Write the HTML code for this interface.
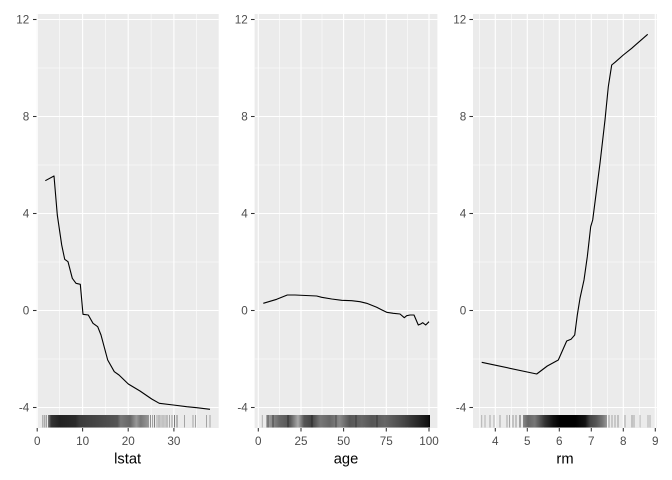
<!DOCTYPE html>
<html><head><meta charset="utf-8"><style>
html,body{margin:0;padding:0;background:#fff;}
svg{display:block;}
text{font-family:"Liberation Sans",Arial,sans-serif;}
.tl{font-size:11.7px;fill:#4D4D4D;}
.at{font-size:14.7px;fill:#000;}
.maj{stroke:#fff;stroke-width:1.1;}
.min{stroke:#fff;stroke-width:0.55;}
.tk{stroke:#333;stroke-width:1.07;}
.ln{fill:none;stroke:#000;stroke-width:1.1;stroke-linejoin:round;}
.rg line{stroke:#000;stroke-width:1;}
</style></head><body>
<svg width="672" height="480" viewBox="0 0 672 480" xmlns="http://www.w3.org/2000/svg">
<defs>
<linearGradient id="g1" gradientUnits="userSpaceOnUse" x1="44" y1="0" x2="149" y2="0">
<stop offset="0" stop-color="#aaa"/><stop offset="0.04" stop-color="#777"/><stop offset="0.07" stop-color="#333"/>
<stop offset="0.15" stop-color="#222"/><stop offset="0.30" stop-color="#2a2a2a"/><stop offset="0.34" stop-color="#3a3a3a"/>
<stop offset="0.53" stop-color="#484848"/><stop offset="0.70" stop-color="#555"/><stop offset="0.73" stop-color="#777"/>
<stop offset="0.82" stop-color="#666"/><stop offset="0.88" stop-color="#999"/><stop offset="0.92" stop-color="#777"/>
<stop offset="1" stop-color="#999"/>
</linearGradient>
<linearGradient id="g2" gradientUnits="userSpaceOnUse" x1="266" y1="0" x2="430" y2="0">
<stop offset="0" stop-color="#aaa"/><stop offset="0.04" stop-color="#888"/><stop offset="0.085" stop-color="#666"/>
<stop offset="0.146" stop-color="#555"/><stop offset="0.195" stop-color="#aaa"/><stop offset="0.232" stop-color="#555"/>
<stop offset="0.28" stop-color="#444"/><stop offset="0.33" stop-color="#777"/><stop offset="0.39" stop-color="#666"/>
<stop offset="0.45" stop-color="#888"/><stop offset="0.51" stop-color="#555"/><stop offset="0.585" stop-color="#666"/>
<stop offset="0.646" stop-color="#555"/><stop offset="0.725" stop-color="#666"/><stop offset="0.786" stop-color="#555"/>
<stop offset="0.847" stop-color="#444"/><stop offset="0.89" stop-color="#333"/><stop offset="0.94" stop-color="#222"/>
<stop offset="0.988" stop-color="#111"/><stop offset="1" stop-color="#000"/>
</linearGradient>
<linearGradient id="g3" gradientUnits="userSpaceOnUse" x1="523" y1="0" x2="607" y2="0">
<stop offset="0" stop-color="#888"/><stop offset="0.06" stop-color="#666"/><stop offset="0.14" stop-color="#777"/>
<stop offset="0.2" stop-color="#555"/><stop offset="0.26" stop-color="#333"/><stop offset="0.36" stop-color="#111"/>
<stop offset="0.44" stop-color="#000"/><stop offset="0.62" stop-color="#000"/><stop offset="0.74" stop-color="#111"/>
<stop offset="0.8" stop-color="#444"/><stop offset="0.87" stop-color="#555"/><stop offset="0.95" stop-color="#777"/>
<stop offset="1" stop-color="#999"/>
</linearGradient>
</defs>
<rect width="672" height="480" fill="#fff"/>

<!-- Panel 1 -->
<rect x="36.5" y="14" width="182.2" height="414" fill="#EBEBEB"/>
<g>
<line class="min" x1="36.5" x2="218.7" y1="68" y2="68"/><line class="min" x1="36.5" x2="218.7" y1="165" y2="165"/>
<line class="min" x1="36.5" x2="218.7" y1="262" y2="262"/><line class="min" x1="36.5" x2="218.7" y1="359" y2="359"/>
<line class="min" x1="59.7" x2="59.7" y1="14" y2="428"/><line class="min" x1="105.4" x2="105.4" y1="14" y2="428"/>
<line class="min" x1="151.1" x2="151.1" y1="14" y2="428"/><line class="min" x1="196.7" x2="196.7" y1="14" y2="428"/>
<line class="maj" x1="36.5" x2="218.7" y1="19.5" y2="19.5"/><line class="maj" x1="36.5" x2="218.7" y1="116.5" y2="116.5"/>
<line class="maj" x1="36.5" x2="218.7" y1="213.5" y2="213.5"/><line class="maj" x1="36.5" x2="218.7" y1="310.5" y2="310.5"/>
<line class="maj" x1="36.5" x2="218.7" y1="407.5" y2="407.5"/>
<line class="maj" x1="37.2" x2="37.2" y1="14" y2="428"/><line class="maj" x1="82.6" x2="82.6" y1="14" y2="428"/>
<line class="maj" x1="128.2" x2="128.2" y1="14" y2="428"/><line class="maj" x1="173.9" x2="173.9" y1="14" y2="428"/>
</g>
<rect x="48" y="415" width="101" height="12.5" fill="url(#g1)"/>
<g class="rg">
<line x1="42.7" x2="42.7" y1="415" y2="427.5" stroke-opacity="0.3"/><line x1="44.3" x2="44.3" y1="415" y2="427.5" stroke-opacity="0.35"/><line x1="46.2" x2="46.2" y1="415" y2="427.5" stroke-opacity="0.45"/>
<line x1="150.5" x2="150.5" y1="415" y2="427.5" stroke-opacity="0.4"/><line x1="152.5" x2="152.5" y1="415" y2="427.5" stroke-opacity="0.3"/>
<line x1="154.5" x2="154.5" y1="415" y2="427.5" stroke-opacity="0.45"/><line x1="157" x2="157" y1="415" y2="427.5" stroke-opacity="0.3"/>
<line x1="159" x2="159" y1="415" y2="427.5" stroke-opacity="0.4"/><line x1="161" x2="161" y1="415" y2="427.5" stroke-opacity="0.3"/>
<line x1="163" x2="163" y1="415" y2="427.5" stroke-opacity="0.35"/><line x1="165" x2="165" y1="415" y2="427.5" stroke-opacity="0.3"/>
<line x1="167" x2="167" y1="415" y2="427.5" stroke-opacity="0.4"/><line x1="169.5" x2="169.5" y1="415" y2="427.5" stroke-opacity="0.3"/>
<line x1="172" x2="172" y1="415" y2="427.5" stroke-opacity="0.35"/><line x1="174.5" x2="174.5" y1="415" y2="427.5" stroke-opacity="0.5"/>
<line x1="177" x2="177" y1="415" y2="427.5" stroke-opacity="0.45"/>
<line x1="184.5" x2="184.5" y1="415" y2="427.5" stroke-opacity="0.3"/><line x1="193" x2="193" y1="415" y2="427.5" stroke-opacity="0.3"/>
<line x1="195.5" x2="195.5" y1="415" y2="427.5" stroke-opacity="0.3"/><line x1="206.5" x2="206.5" y1="415" y2="427.5" stroke-opacity="0.3"/>
<line x1="210" x2="210" y1="415" y2="427.5" stroke-opacity="0.3"/>
</g>
<path class="ln" d="M45.3,180.7 L54,176 L57.3,215 L61.7,245 L64.7,259.3 L68,261.7 L72.3,278.3 L76,283.3 L80.3,284.3 L83,314.3 L88.3,315 L93,323.3 L97.7,326.7 L101,335 L107.7,360 L114.3,371.7 L119,375 L128.3,384 L140,391 L151.7,399 L159.3,403.3 L173.3,405 L186.7,406.7 L196.7,407.7 L210,409.3"/>
<g class="tk">
<line x1="33" x2="36.5" y1="19.5" y2="19.5"/><line x1="33" x2="36.5" y1="116.5" y2="116.5"/><line x1="33" x2="36.5" y1="213.5" y2="213.5"/>
<line x1="33" x2="36.5" y1="310.5" y2="310.5"/><line x1="33" x2="36.5" y1="407.5" y2="407.5"/>
<line x1="37.2" x2="37.2" y1="428" y2="431.5"/><line x1="82.6" x2="82.6" y1="428" y2="431.5"/>
<line x1="128.2" x2="128.2" y1="428" y2="431.5"/><line x1="173.9" x2="173.9" y1="428" y2="431.5"/>
</g>
<g class="tl" text-anchor="end">
<text x="29.3" y="23.7">12</text><text x="29.3" y="120.7">8</text><text x="29.3" y="217.7">4</text>
<text x="29.3" y="314.7">0</text><text x="29.3" y="411.7">-4</text>
</g>
<g class="tl" text-anchor="middle">
<text x="37.2" y="445">0</text><text x="82.6" y="445">10</text><text x="128.2" y="445">20</text><text x="173.9" y="445">30</text>
</g>
<text class="at" x="127.6" y="463.3" text-anchor="middle">lstat</text>

<!-- Panel 2 -->
<rect x="254.6" y="14" width="182.8" height="414" fill="#EBEBEB"/>
<g>
<line class="min" x1="254.6" x2="437.4" y1="68" y2="68"/><line class="min" x1="254.6" x2="437.4" y1="165" y2="165"/>
<line class="min" x1="254.6" x2="437.4" y1="262" y2="262"/><line class="min" x1="254.6" x2="437.4" y1="359" y2="359"/>
<line class="min" x1="279.6" x2="279.6" y1="14" y2="428"/><line class="min" x1="322" x2="322" y1="14" y2="428"/>
<line class="min" x1="364.7" x2="364.7" y1="14" y2="428"/><line class="min" x1="407.4" x2="407.4" y1="14" y2="428"/>
<line class="maj" x1="254.6" x2="437.4" y1="19.5" y2="19.5"/><line class="maj" x1="254.6" x2="437.4" y1="116.5" y2="116.5"/>
<line class="maj" x1="254.6" x2="437.4" y1="213.5" y2="213.5"/><line class="maj" x1="254.6" x2="437.4" y1="310.5" y2="310.5"/>
<line class="maj" x1="254.6" x2="437.4" y1="407.5" y2="407.5"/>
<line class="maj" x1="258.3" x2="258.3" y1="14" y2="428"/><line class="maj" x1="301" x2="301" y1="14" y2="428"/>
<line class="maj" x1="343.6" x2="343.6" y1="14" y2="428"/><line class="maj" x1="386.3" x2="386.3" y1="14" y2="428"/>
<line class="maj" x1="429" x2="429" y1="14" y2="428"/>
</g>
<rect x="266" y="415" width="164" height="12.5" fill="url(#g2)"/>
<g class="rg">
<line x1="262.3" x2="262.3" y1="415" y2="427.5" stroke-opacity="0.25"/>
<line x1="268" x2="268" y1="415" y2="427.5" stroke="#EBEBEB" stroke-opacity="0.5"/>
<line x1="273" x2="273" y1="415" y2="427.5" stroke="#EBEBEB" stroke-opacity="0.5"/>
<line x1="288" x2="288" y1="415" y2="427.5" stroke="#EBEBEB" stroke-opacity="0.5"/>
<line x1="312" x2="312" y1="415" y2="427.5" stroke="#EBEBEB" stroke-opacity="0.4"/>
<line x1="336" x2="336" y1="415" y2="427.5" stroke="#EBEBEB" stroke-opacity="0.4"/>
<line x1="356" x2="356" y1="415" y2="427.5" stroke="#EBEBEB" stroke-opacity="0.4"/>
<line x1="377" x2="377" y1="415" y2="427.5" stroke="#EBEBEB" stroke-opacity="0.4"/>
</g>
<path class="ln" d="M263.3,303.3 L276.7,299.3 L287.3,295 L295,295 L316.7,296 L321.7,297.3 L331.7,299 L341.7,300.3 L351.7,300.7 L360,301.7 L366.7,303.3 L376.7,307.3 L386.7,312.3 L393.3,313.3 L400,314 L404.3,317.7 L406.7,315.7 L410,315 L414,315 L418.3,325 L420.7,324 L422.7,322.7 L425.7,325 L429,321.7"/>
<g class="tk">
<line x1="251" x2="254.6" y1="19.5" y2="19.5"/><line x1="251" x2="254.6" y1="116.5" y2="116.5"/><line x1="251" x2="254.6" y1="213.5" y2="213.5"/>
<line x1="251" x2="254.6" y1="310.5" y2="310.5"/><line x1="251" x2="254.6" y1="407.5" y2="407.5"/>
<line x1="258.3" x2="258.3" y1="428" y2="431.5"/><line x1="301" x2="301" y1="428" y2="431.5"/>
<line x1="343.6" x2="343.6" y1="428" y2="431.5"/><line x1="386.3" x2="386.3" y1="428" y2="431.5"/>
<line x1="429" x2="429" y1="428" y2="431.5"/>
</g>
<g class="tl" text-anchor="end">
<text x="247.8" y="23.7">12</text><text x="247.8" y="120.7">8</text><text x="247.8" y="217.7">4</text>
<text x="247.8" y="314.7">0</text><text x="247.8" y="411.7">-4</text>
</g>
<g class="tl" text-anchor="middle">
<text x="258.3" y="445">0</text><text x="301" y="445">25</text><text x="343.6" y="445">50</text><text x="386.3" y="445">75</text><text x="429" y="445">100</text>
</g>
<text class="at" x="346" y="463.3" text-anchor="middle">age</text>

<!-- Panel 3 -->
<rect x="473" y="14" width="183.8" height="414" fill="#EBEBEB"/>
<g>
<line class="min" x1="473" x2="656.8" y1="68" y2="68"/><line class="min" x1="473" x2="656.8" y1="165" y2="165"/>
<line class="min" x1="473" x2="656.8" y1="262" y2="262"/><line class="min" x1="473" x2="656.8" y1="359" y2="359"/>
<line class="min" x1="479.3" x2="479.3" y1="14" y2="428"/><line class="min" x1="511.3" x2="511.3" y1="14" y2="428"/>
<line class="min" x1="543.3" x2="543.3" y1="14" y2="428"/><line class="min" x1="575.3" x2="575.3" y1="14" y2="428"/>
<line class="min" x1="607.3" x2="607.3" y1="14" y2="428"/><line class="min" x1="639.3" x2="639.3" y1="14" y2="428"/>
<line class="maj" x1="473" x2="656.8" y1="19.5" y2="19.5"/><line class="maj" x1="473" x2="656.8" y1="116.5" y2="116.5"/>
<line class="maj" x1="473" x2="656.8" y1="213.5" y2="213.5"/><line class="maj" x1="473" x2="656.8" y1="310.5" y2="310.5"/>
<line class="maj" x1="473" x2="656.8" y1="407.5" y2="407.5"/>
<line class="maj" x1="495.3" x2="495.3" y1="14" y2="428"/><line class="maj" x1="527.3" x2="527.3" y1="14" y2="428"/>
<line class="maj" x1="559.3" x2="559.3" y1="14" y2="428"/><line class="maj" x1="591.3" x2="591.3" y1="14" y2="428"/>
<line class="maj" x1="623.3" x2="623.3" y1="14" y2="428"/><line class="maj" x1="655.3" x2="655.3" y1="14" y2="428"/>
</g>
<rect x="523" y="415" width="84" height="12.5" fill="url(#g3)"/>
<g class="rg">
<line x1="481.7" x2="481.7" y1="415" y2="427.5" stroke-opacity="0.25"/><line x1="485" x2="485" y1="415" y2="427.5" stroke-opacity="0.25"/>
<line x1="490" x2="490" y1="415" y2="427.5" stroke-opacity="0.3"/><line x1="494" x2="494" y1="415" y2="427.5" stroke-opacity="0.25"/>
<line x1="500" x2="500" y1="415" y2="427.5" stroke-opacity="0.3"/><line x1="507" x2="507" y1="415" y2="427.5" stroke-opacity="0.3"/>
<line x1="509.5" x2="509.5" y1="415" y2="427.5" stroke-opacity="0.3"/><line x1="513" x2="513" y1="415" y2="427.5" stroke-opacity="0.35"/>
<line x1="516" x2="516" y1="415" y2="427.5" stroke-opacity="0.35"/><line x1="520" x2="520" y1="415" y2="427.5" stroke-opacity="0.6"/>
<line x1="609" x2="609" y1="415" y2="427.5" stroke-opacity="0.35"/><line x1="612" x2="612" y1="415" y2="427.5" stroke-opacity="0.3"/>
<line x1="615" x2="615" y1="415" y2="427.5" stroke-opacity="0.3"/><line x1="618" x2="618" y1="415" y2="427.5" stroke-opacity="0.35"/>
<line x1="625" x2="625" y1="415" y2="427.5" stroke-opacity="0.3"/><line x1="632" x2="632" y1="415" y2="427.5" stroke-opacity="0.35"/>
<line x1="634" x2="634" y1="415" y2="427.5" stroke-opacity="0.3"/><line x1="640" x2="640" y1="415" y2="427.5" stroke-opacity="0.25"/>
<line x1="648" x2="648" y1="415" y2="427.5" stroke-opacity="0.25"/><line x1="650" x2="650" y1="415" y2="427.5" stroke-opacity="0.25"/>
</g>
<path class="ln" d="M481.7,362.3 L536.7,374 L547.3,366 L558.3,360 L566.7,341 L571,339.3 L574.7,335 L577.3,315 L580,298.3 L584,280 L587.3,256.7 L590.7,226.7 L592.7,220 L600,163.3 L605,120 L608.3,86.7 L611.7,65 L615,62.3 L623.3,55 L631.7,48.3 L647.7,34.3"/>
<g class="tk">
<line x1="469.4" x2="473" y1="19.5" y2="19.5"/><line x1="469.4" x2="473" y1="116.5" y2="116.5"/><line x1="469.4" x2="473" y1="213.5" y2="213.5"/>
<line x1="469.4" x2="473" y1="310.5" y2="310.5"/><line x1="469.4" x2="473" y1="407.5" y2="407.5"/>
<line x1="495.3" x2="495.3" y1="428" y2="431.5"/><line x1="527.3" x2="527.3" y1="428" y2="431.5"/>
<line x1="559.3" x2="559.3" y1="428" y2="431.5"/><line x1="591.3" x2="591.3" y1="428" y2="431.5"/>
<line x1="623.3" x2="623.3" y1="428" y2="431.5"/><line x1="655.3" x2="655.3" y1="428" y2="431.5"/>
</g>
<g class="tl" text-anchor="end">
<text x="466.3" y="23.7">12</text><text x="466.3" y="120.7">8</text><text x="466.3" y="217.7">4</text>
<text x="466.3" y="314.7">0</text><text x="466.3" y="411.7">-4</text>
</g>
<g class="tl" text-anchor="middle">
<text x="495.3" y="445">4</text><text x="527.3" y="445">5</text><text x="559.3" y="445">6</text>
<text x="591.3" y="445">7</text><text x="623.3" y="445">8</text><text x="655.3" y="445">9</text>
</g>
<text class="at" x="565" y="463.3" text-anchor="middle">rm</text>
</svg>
</body></html>
